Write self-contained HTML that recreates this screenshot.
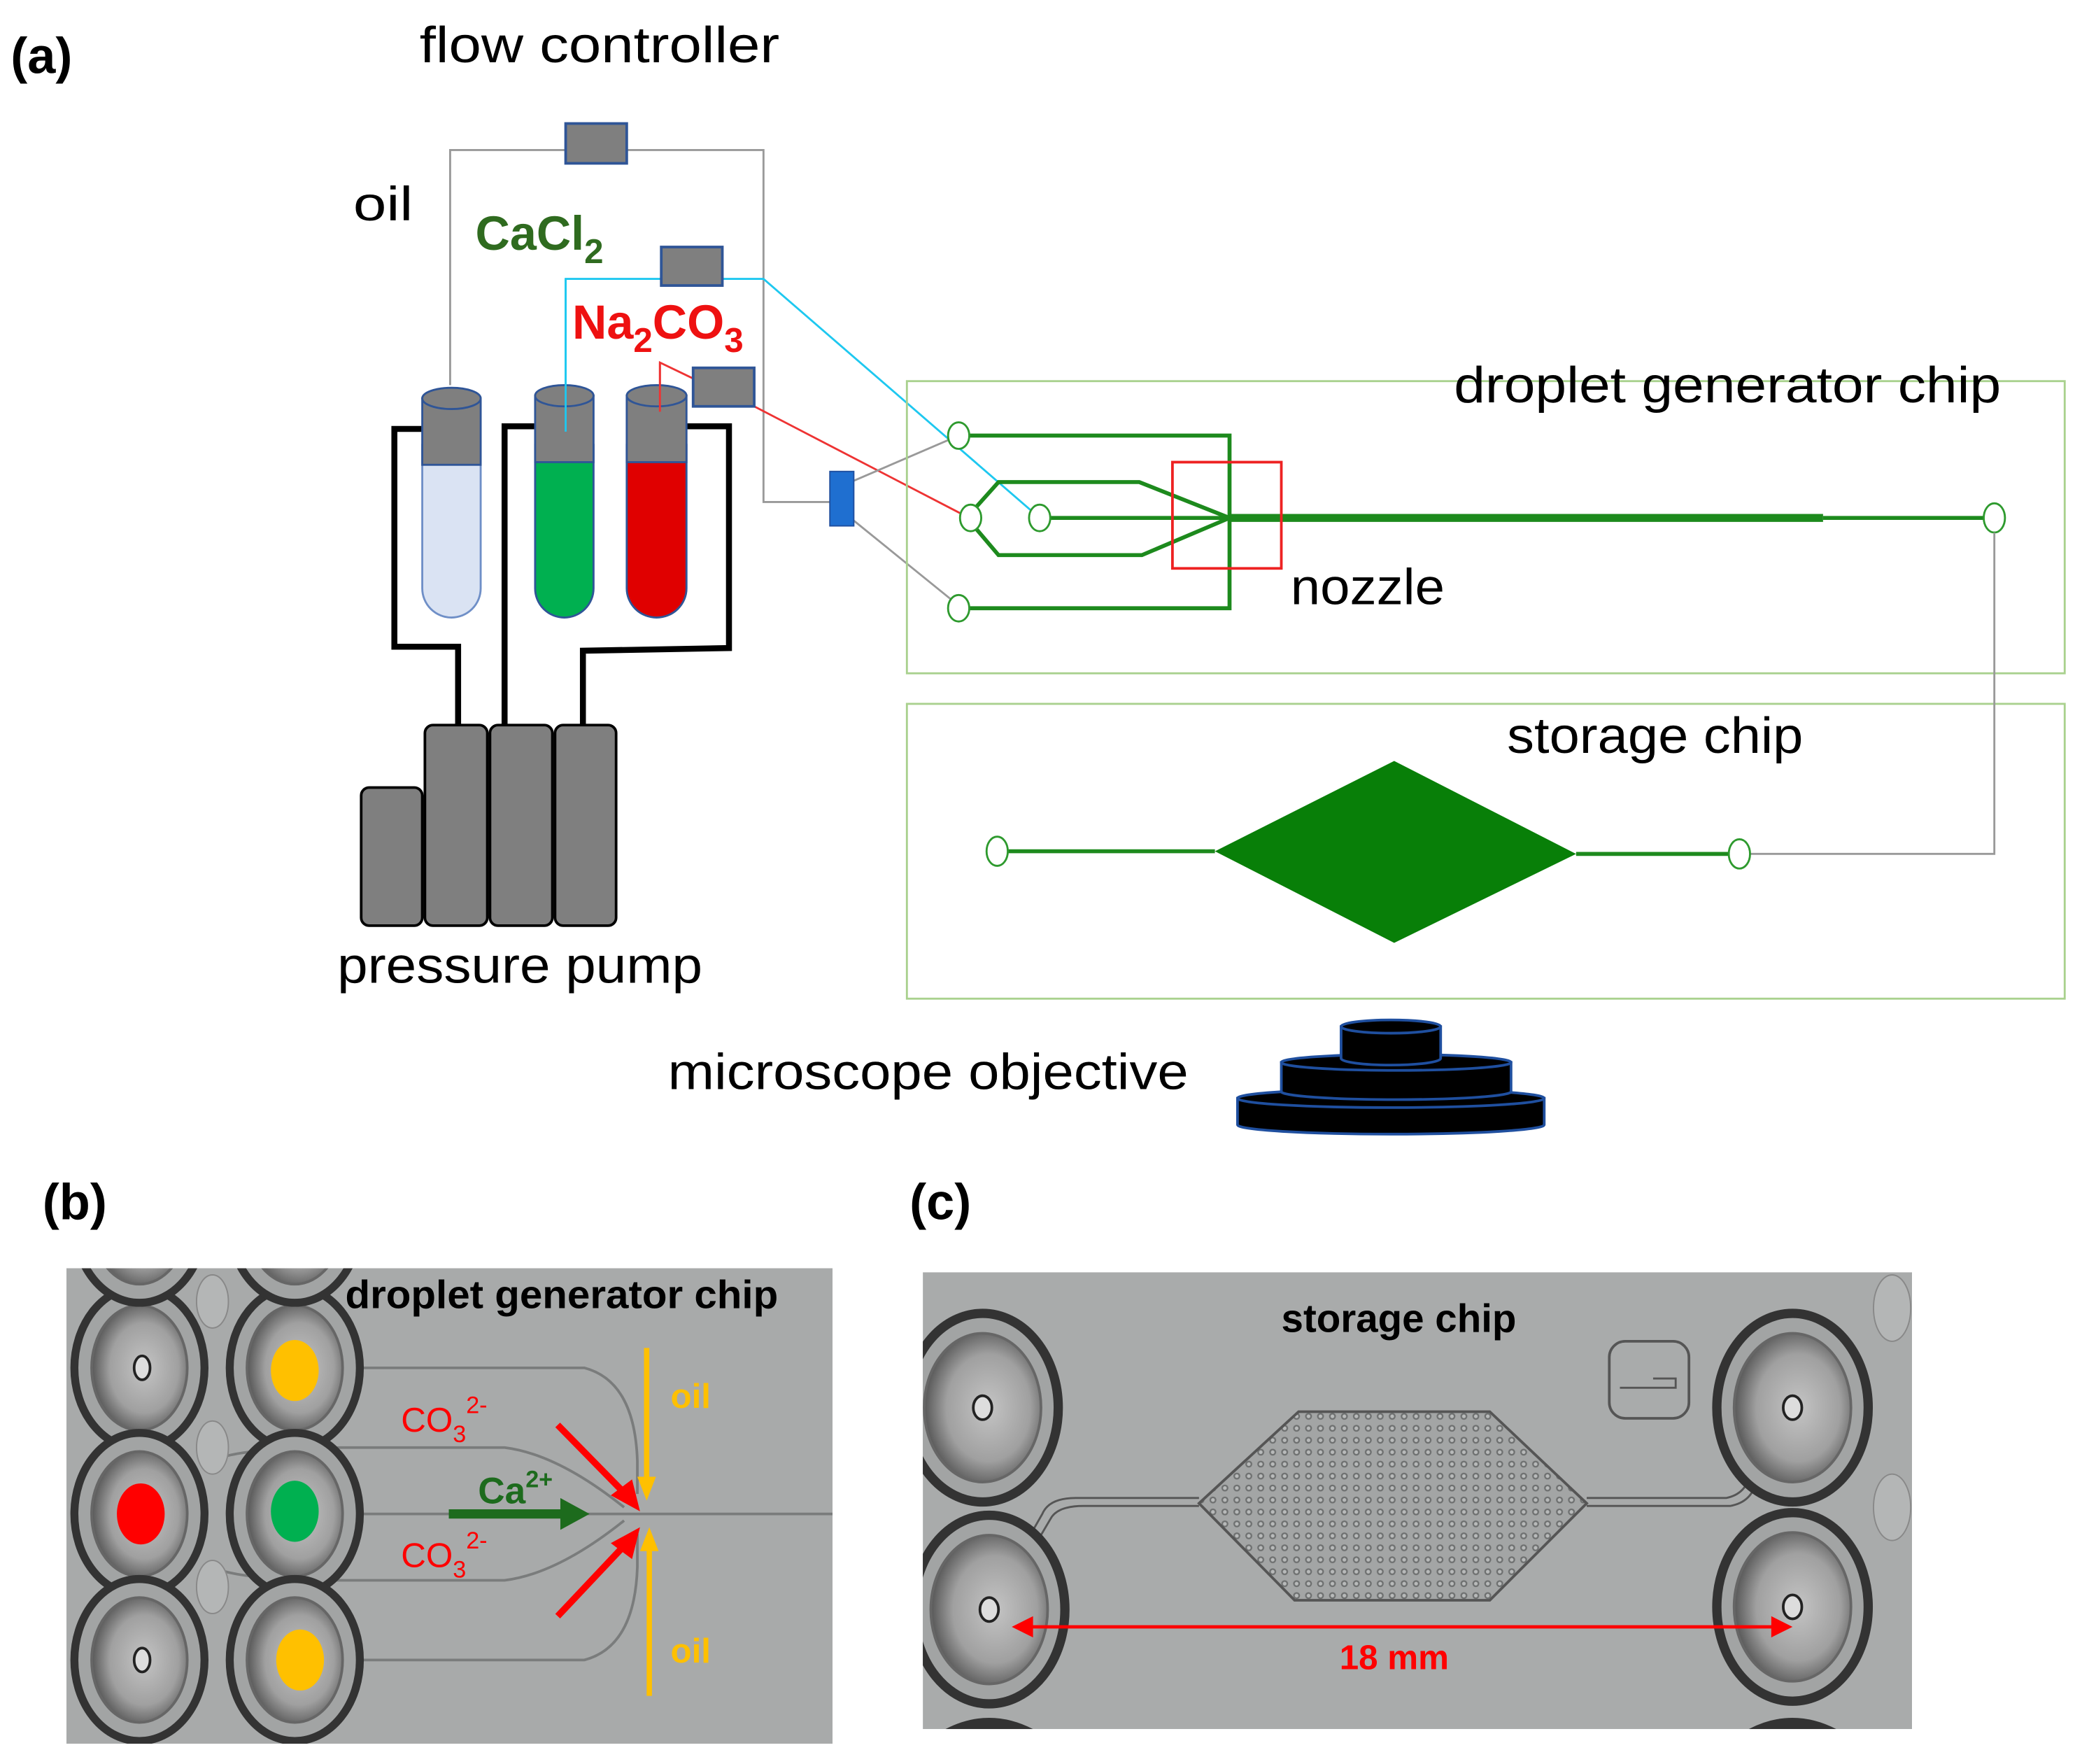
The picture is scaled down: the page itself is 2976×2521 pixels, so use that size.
<!DOCTYPE html>
<html><head><meta charset="utf-8"><style>
html,body{margin:0;padding:0;background:#fff;width:2976px;height:2521px;overflow:hidden;}
svg{display:block;}
text{font-family:"Liberation Sans",sans-serif;}
</style></head><body>
<svg width="2976" height="2521" viewBox="0 0 1568 1328.3" xmlns="http://www.w3.org/2000/svg">
<defs>
<pattern id="dots" width="9" height="9" patternUnits="userSpaceOnUse">
<rect width="9" height="9" fill="#a3a5a5"/>
<circle cx="4.5" cy="4.5" r="2.6" fill="#6e7070"/>
<circle cx="4.5" cy="4.5" r="1.4" fill="#b8baba"/>
</pattern>
<radialGradient id="inner" cx="0.55" cy="0.5" r="0.6">
<stop offset="0" stop-color="#c4c4c4"/><stop offset="0.6" stop-color="#a0a0a0"/><stop offset="1" stop-color="#444"/>
</radialGradient>
<clipPath id="cb"><rect x="50" y="955" width="577" height="358"/></clipPath>
<clipPath id="cc"><rect x="695" y="958" width="745" height="344"/></clipPath>
<g id="w">
<ellipse rx="49" ry="61" fill="#a2a4a4" stroke="#333" stroke-width="6"/>
<ellipse rx="36" ry="47" fill="url(#inner)" stroke="#666" stroke-width="2"/>
<ellipse cx="2" rx="6" ry="9" fill="#ddd" stroke="#222" stroke-width="2"/>
</g>
<g id="w2">
<ellipse rx="57" ry="71" fill="#a2a4a4" stroke="#333" stroke-width="7"/>
<ellipse rx="44" ry="56" fill="url(#inner)" stroke="#666" stroke-width="2"/>
<ellipse rx="7" ry="9" fill="#ddd" stroke="#222" stroke-width="2"/>
</g>
</defs>

<text x="8" y="55" font-size="38" font-weight="bold">(a)</text>
<text x="316" y="47" font-size="38" textLength="271" lengthAdjust="spacingAndGlyphs">flow controller</text>
<text x="266" y="166" font-size="36" textLength="45" lengthAdjust="spacingAndGlyphs">oil</text>
<text x="358" y="188" font-size="36" font-weight="bold" fill="#2f6b1f">CaCl<tspan font-size="26" dy="10">2</tspan></text>
<text x="431" y="255" font-size="36" font-weight="bold" fill="#ee1111">Na<tspan font-size="26" dy="10">2</tspan><tspan dy="-10">CO</tspan><tspan font-size="26" dy="10">3</tspan></text>

<polyline points="339,290 339,113 575,113 575,378 625,378" fill="none" stroke="#999" stroke-width="1.5"/>
<rect x="426" y="93" width="46" height="30" fill="#7f7f7f" stroke="#2f5597" stroke-width="2"/>
<polyline points="426,325 426,210 575,210 783,390" fill="none" stroke="#1ec8f0" stroke-width="1.5"/>
<rect x="498" y="186" width="46" height="29" fill="#7f7f7f" stroke="#2f5597" stroke-width="2"/>
<polyline points="497,310 497,273 522,285" fill="none" stroke="#e33" stroke-width="1.5"/>
<line x1="568" y1="306" x2="730" y2="390" stroke="#e33" stroke-width="1.5"/>
<rect x="522" y="277" width="46" height="29" fill="#7f7f7f" stroke="#2f5597" stroke-width="2"/>
<line x1="643" y1="362" x2="722" y2="328" stroke="#999" stroke-width="1.5"/>
<line x1="643" y1="392" x2="722" y2="456" stroke="#999" stroke-width="1.5"/>
<rect x="625" y="355" width="18" height="41" fill="#1f6fd0" stroke="#1f4f9f" stroke-width="1"/>

<g fill="none" stroke="#000" stroke-width="4.5">
<polyline points="318,323 297,323 297,487 345,487 345,547"/>
<polyline points="403,321 380,321 380,547"/>
<polyline points="517,321 549,321 549,488 439,490 439,547"/>
</g>
<g stroke="#2f5597" stroke-width="1.5">
<path d="M318,335 V443 A22,22 0 0 0 362,443 V335 Z" fill="#dae3f3" stroke="#6f8fc7"/>
<rect x="318" y="300" width="44" height="50" fill="#7f7f7f"/>
<ellipse cx="340" cy="300" rx="22" ry="8" fill="#7f7f7f"/>
<path d="M403,335 V443 A22,22 0 0 0 447,443 V335 Z" fill="#00b050"/>
<rect x="403" y="298" width="44" height="50" fill="#7f7f7f"/>
<ellipse cx="425" cy="298" rx="22" ry="8" fill="#7f7f7f"/>
<path d="M472,335 V443 A22.5,22 0 0 0 517,443 V335 Z" fill="#e00000"/>
<rect x="472" y="298" width="45" height="50" fill="#7f7f7f"/>
<ellipse cx="494.5" cy="298" rx="22.5" ry="8" fill="#7f7f7f"/>
</g>
<line x1="426" y1="210" x2="426" y2="325" stroke="#1ec8f0" stroke-width="1.5"/>
<line x1="497" y1="273" x2="497" y2="310" stroke="#e33" stroke-width="1.5"/>
<g fill="#7f7f7f" stroke="#000" stroke-width="2">
<rect x="272" y="593" width="46" height="104" rx="6"/>
<rect x="320" y="546" width="47" height="151" rx="6"/>
<rect x="369" y="546" width="47" height="151" rx="6"/>
<rect x="418" y="546" width="46" height="151" rx="6"/>
</g>
<text x="254" y="740" font-size="38" textLength="275" lengthAdjust="spacingAndGlyphs">pressure pump</text>

<rect x="683" y="287" width="872" height="220" fill="none" stroke="#a9d18e" stroke-width="1.5"/>
<rect x="683" y="530" width="872" height="222" fill="none" stroke="#a9d18e" stroke-width="1.5"/>
<text x="1095" y="303" font-size="38" textLength="412" lengthAdjust="spacingAndGlyphs">droplet generator chip</text>
<g fill="none" stroke="#1d8a1d" stroke-width="3">
<polyline points="730,328 926,328 926,458 730,458"/>
<line x1="791" y1="390" x2="926" y2="390"/>
<polyline points="735,382 752,363 858,363 926,390"/>
<polyline points="735,398 752,418 860,418 926,390"/>
<line x1="1373" y1="390" x2="1494" y2="390"/>
</g>
<line x1="926" y1="390" x2="1373" y2="390" stroke="#1d8a1d" stroke-width="6"/>
<g fill="#fff" stroke="#2e9a2e" stroke-width="1.5">
<ellipse cx="722" cy="328" rx="8" ry="10"/>
<ellipse cx="722" cy="458" rx="8" ry="10"/>
<ellipse cx="731" cy="390" rx="8" ry="10"/>
<ellipse cx="783" cy="390" rx="8" ry="10"/>
<ellipse cx="1502" cy="390" rx="8" ry="11"/>
</g>
<rect x="883" y="348" width="82" height="80" fill="none" stroke="#e22" stroke-width="2"/>
<text x="972" y="455" font-size="38" textLength="116" lengthAdjust="spacingAndGlyphs">nozzle</text>
<polyline points="1502,401 1502,643 1318,643" fill="none" stroke="#999" stroke-width="1.5"/>
<text x="1135" y="567" font-size="38" textLength="223" lengthAdjust="spacingAndGlyphs">storage chip</text>
<line x1="759" y1="641" x2="915" y2="641" stroke="#1d8a1d" stroke-width="3"/>
<line x1="1187" y1="643" x2="1302" y2="643" stroke="#1d8a1d" stroke-width="3"/>
<polygon points="915,641 1050,573 1187,643 1050,710" fill="#087f08"/>
<g fill="#fff" stroke="#2e9a2e" stroke-width="1.5">
<ellipse cx="751" cy="641" rx="8" ry="11"/>
<ellipse cx="1310" cy="643" rx="8" ry="11"/>
</g>
<text x="503" y="820" font-size="38" textLength="392" lengthAdjust="spacingAndGlyphs">microscope objective</text>
<g fill="#000" stroke="#1f4f9f" stroke-width="2">
<path d="M932,827 V847 A115.5,7 0 0 0 1163,847 V827 Z"/>
<ellipse cx="1047.5" cy="827" rx="115.5" ry="7"/>
<path d="M965,800 V822 A86.5,6 0 0 0 1138,822 V800 Z"/>
<ellipse cx="1051.5" cy="800" rx="86.5" ry="6"/>
<path d="M1010,773 V797 A37.5,5 0 0 0 1085,797 V773 Z"/>
<ellipse cx="1047.5" cy="773" rx="37.5" ry="5"/>
</g>

<text x="32" y="918" font-size="38" font-weight="bold">(b)</text>
<g clip-path="url(#cb)">
<rect x="50" y="955" width="577" height="358" fill="#a8aaaa"/>
<g fill="none" stroke="#7a7c7c" stroke-width="2">
<path d="M265,1030 H440 Q478,1040 480,1100 V1125"/>
<path d="M265,1250 H440 Q478,1240 480,1180 V1155"/>
<path d="M160,1100 Q180,1090 260,1090 H380 Q420,1095 470,1135"/>
<path d="M160,1180 Q180,1190 260,1190 H380 Q420,1185 470,1145"/>
<line x1="265" y1="1140" x2="627" y2="1140"/>
</g>
<ellipse cx="160" cy="980" rx="12" ry="20" fill="#b4b6b6" stroke="#888"/>
<ellipse cx="160" cy="1090" rx="12" ry="20" fill="#b4b6b6" stroke="#888"/>
<ellipse cx="160" cy="1195" rx="12" ry="20" fill="#b4b6b6" stroke="#888"/>
<use href="#w" x="105" y="1030"/><use href="#w" x="222" y="1030"/>
<use href="#w" x="105" y="1140"/><use href="#w" x="222" y="1140"/>
<use href="#w" x="105" y="1250"/><use href="#w" x="222" y="1250"/>
<use href="#w" x="105" y="920"/><use href="#w" x="222" y="920"/>
</g>
<ellipse cx="222" cy="1032" rx="18" ry="23" fill="#ffc000"/>
<ellipse cx="106" cy="1140" rx="18" ry="23" fill="#ff0000"/>
<ellipse cx="222" cy="1138" rx="18" ry="23" fill="#00b050"/>
<ellipse cx="226" cy="1250" rx="18" ry="23" fill="#ffc000"/>
<text x="260" y="985" font-size="30" font-weight="bold" textLength="326" lengthAdjust="spacingAndGlyphs">droplet generator chip</text>
<g stroke="#ffc000" stroke-width="4" fill="#ffc000">
<line x1="487" y1="1015" x2="487" y2="1115"/>
<polygon points="480,1112 494,1112 487,1130" stroke="none"/>
<line x1="489" y1="1165" x2="489" y2="1277"/>
<polygon points="482,1168 496,1168 489,1150" stroke="none"/>
</g>
<text x="505" y="1060" font-size="26" font-weight="bold" fill="#ffc000">oil</text>
<text x="505" y="1252" font-size="26" font-weight="bold" fill="#ffc000">oil</text>
<g stroke="#f00" stroke-width="5" fill="#f00">
<line x1="420" y1="1073" x2="470" y2="1124"/>
<polygon points="460,1126 476,1114 482,1138" stroke="none"/>
<line x1="420" y1="1217" x2="470" y2="1164"/>
<polygon points="460,1162 476,1174 482,1150" stroke="none"/>
</g>
<text x="302" y="1078" font-size="26" fill="#f00">CO<tspan font-size="18" dy="8">3</tspan><tspan font-size="18" dy="-22">2-</tspan></text>
<text x="302" y="1180" font-size="26" fill="#f00">CO<tspan font-size="18" dy="8">3</tspan><tspan font-size="18" dy="-22">2-</tspan></text>
<line x1="338" y1="1140" x2="425" y2="1140" stroke="#1d6b1d" stroke-width="7"/>
<polygon points="422,1128 444,1140 422,1152" fill="#1d6b1d"/>
<text x="360" y="1132" font-size="28" font-weight="bold" fill="#1d6b1d">Ca<tspan font-size="18" dy="-12">2+</tspan></text>

<text x="685" y="918" font-size="38" font-weight="bold">(c)</text>
<g clip-path="url(#cc)">
<rect x="695" y="958" width="745" height="344" fill="#a9abab"/>
<g fill="none" stroke="#555" stroke-width="1.5">
<path d="M745,1210 L785,1140 Q790,1128 810,1128 H903"/>
<path d="M751,1212 L791,1144 Q796,1134 816,1134 H903"/>
<path d="M1195,1128 H1300 Q1315,1125 1318,1110 L1347,1060"/>
<path d="M1195,1134 H1303 Q1320,1131 1323,1114 L1352,1062"/>
</g>
<polygon points="978,1063 1122,1063 1195,1132 1122,1205 975,1205 903,1132" fill="url(#dots)" stroke="#555" stroke-width="2"/>
<use href="#w2" x="740" y="1060"/><use href="#w2" x="745" y="1212"/>
<use href="#w2" x="1350" y="1060"/><use href="#w2" x="1350" y="1210"/>
<path d="M712,1302 Q745,1285 778,1302 Z" fill="#333"/>
<path d="M1317,1302 Q1350,1285 1383,1302 Z" fill="#333"/>
<ellipse cx="1425" cy="985" rx="14" ry="25" fill="#b4b6b6" stroke="#888"/>
<ellipse cx="1425" cy="1135" rx="14" ry="25" fill="#b4b6b6" stroke="#888"/>
</g>
<rect x="1212" y="1010" width="60" height="58" rx="12" fill="none" stroke="#555" stroke-width="2"/>
<path d="M1220,1045 H1262 V1038 H1245" fill="none" stroke="#555" stroke-width="1.5"/>
<text x="965" y="1003" font-size="30" font-weight="bold" textLength="177" lengthAdjust="spacingAndGlyphs">storage chip</text>
<line x1="775" y1="1225" x2="1337" y2="1225" stroke="#f00" stroke-width="2.5"/>
<polygon points="762,1225 778,1217 778,1233" fill="#f00"/>
<polygon points="1350,1225 1334,1217 1334,1233" fill="#f00"/>
<text x="1050" y="1257" font-size="26" font-weight="bold" fill="#f00" text-anchor="middle">18 mm</text>
</svg>
</body></html>
